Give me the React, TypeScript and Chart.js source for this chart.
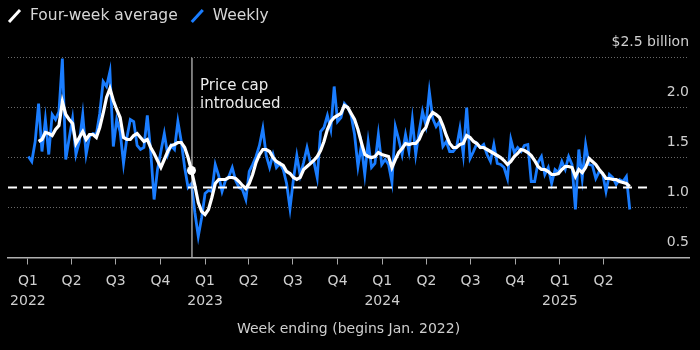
import { useEffect, useRef } from 'react';
import { Chart, registerables } from 'chart.js';

Chart.register(...registerables);

// ---------- data ----------
const firstWeekEnding = '2022-01-02';

const weekly = [
  1.51, 1.46, 1.66, 2.04, 1.56, 1.88, 1.53, 1.93, 1.88, 1.96,
  2.49, 1.48, 1.69, 1.89, 1.53, 1.66, 1.93, 1.53, 1.71, 1.74,
  1.73, 1.94, 2.26, 2.21, 2.36, 1.61, 1.88, 1.76, 1.44, 1.70,
  1.88, 1.86, 1.62, 1.58, 1.60, 1.92, 1.56, 1.08, 1.38, 1.56,
  1.74, 1.53, 1.62, 1.58, 1.86, 1.66, 1.40, 1.20, 1.24, 0.95,
  0.71, 0.90, 1.14, 1.17, 1.16, 1.43, 1.32, 1.16, 1.27, 1.31,
  1.40, 1.27, 1.20, 1.18, 1.08, 1.36, 1.43, 1.51, 1.62, 1.79,
  1.52, 1.40, 1.53, 1.40, 1.44, 1.38, 1.24, 0.99, 1.28, 1.52,
  1.32, 1.45, 1.60, 1.45, 1.46, 1.30, 1.76, 1.80, 1.92, 1.78,
  2.21, 1.86, 1.90, 2.04, 2.00, 1.92, 1.73, 1.41, 1.62, 1.33,
  1.66, 1.40, 1.44, 1.73, 1.43, 1.48, 1.43, 1.25, 1.81, 1.68,
  1.53, 1.73, 1.56, 1.88, 1.53, 1.76, 1.96, 1.82, 2.16, 1.89,
  1.81, 1.86, 1.61, 1.66, 1.56, 1.56, 1.60, 1.79, 1.53, 2.00,
  1.49, 1.56, 1.64, 1.60, 1.63, 1.53, 1.46, 1.63, 1.44, 1.43,
  1.40, 1.29, 1.68, 1.55, 1.60, 1.56, 1.62, 1.63, 1.26, 1.26,
  1.45, 1.51, 1.33, 1.40, 1.24, 1.38, 1.35, 1.46, 1.38, 1.51,
  1.43, 0.98, 1.58, 1.29, 1.63, 1.43, 1.42, 1.29, 1.36, 1.34,
  1.16, 1.33, 1.30, 1.23, 1.28, 1.26, 1.31, 0.98,
];

const fourWeekAvg = [
  null, null, null, 1.66, 1.68, 1.75, 1.74, 1.72, 1.78, 1.82,
  2.06, 1.93, 1.88, 1.84, 1.64, 1.70, 1.76, 1.68, 1.73, 1.73,
  1.70, 1.80, 1.94, 2.10, 2.19, 2.07, 1.98, 1.90, 1.70, 1.68,
  1.68, 1.72, 1.74, 1.70, 1.66, 1.68, 1.60, 1.54, 1.47, 1.40,
  1.48, 1.56, 1.62, 1.63, 1.65, 1.65, 1.60, 1.50, 1.37, 1.22,
  1.05, 0.96, 0.93, 0.98, 1.10, 1.24, 1.28, 1.28, 1.28, 1.30,
  1.30, 1.29, 1.26, 1.22, 1.19, 1.24, 1.33, 1.45, 1.53, 1.58,
  1.58, 1.56, 1.50, 1.46, 1.44, 1.42, 1.36, 1.34, 1.30, 1.28,
  1.30, 1.38, 1.41, 1.44, 1.47, 1.51, 1.57, 1.66, 1.78, 1.86,
  1.90, 1.92, 1.94, 2.02, 2.00, 1.94, 1.88, 1.78, 1.65, 1.53,
  1.51, 1.50, 1.51, 1.55, 1.53, 1.52, 1.51, 1.40, 1.48, 1.55,
  1.59, 1.64, 1.63, 1.64, 1.64, 1.68, 1.76, 1.80, 1.90, 1.95,
  1.93, 1.90, 1.82, 1.72, 1.64, 1.60, 1.60, 1.63, 1.64, 1.72,
  1.70, 1.66, 1.64, 1.60, 1.60, 1.58, 1.56, 1.54, 1.52, 1.50,
  1.47, 1.43, 1.46, 1.51, 1.54, 1.58, 1.57, 1.55, 1.52, 1.47,
  1.41, 1.38, 1.38, 1.36, 1.33, 1.33, 1.34, 1.38, 1.41, 1.41,
  1.40, 1.31, 1.38, 1.35, 1.40, 1.49, 1.46, 1.43, 1.38, 1.34,
  1.29, 1.29, 1.28, 1.28, 1.26, 1.25, 1.24, 1.21,
];

const quarterTickDates = [
  '2022-01-01', '2022-04-01', '2022-07-01', '2022-10-01',
  '2023-01-01', '2023-04-01', '2023-07-01', '2023-10-01',
  '2024-01-01', '2024-04-01', '2024-07-01', '2024-10-01',
  '2025-01-01', '2025-04-01',
];
const quarterLabels = [
  ['Q1', '2022'], ['Q2'], ['Q3'], ['Q4'],
  ['Q1', '2023'], ['Q2'], ['Q3'], ['Q4'],
  ['Q1', '2024'], ['Q2'], ['Q3'], ['Q4'],
  ['Q1', '2025'], ['Q2'],
];
const yTickValues = [0.5, 1.0, 1.5, 2.0, 2.5];
const yTopLabel = '$2.5 billion';

const xRangeDates = ['2021-11-21', '2025-09-24'];
const referenceLevel = 1.2;
const referenceEndDate = '2025-07-10';
const priceCapDate = '2022-12-05';
const priceCapLabel = ['Price cap', 'introduced'];
const seriesLabels = ['Four-week average', 'Weekly'];
const axisTitle = 'Week ending (begins Jan. 2022)';

// ---------- helpers ----------
const FONT = "'DejaVu Sans', sans-serif";
const BLUE = '#1a7dff';
const TEXT = '#cfcfcf';
const dayOf = (s: string) => (Date.parse(s) - Date.parse('2022-01-01')) / 86400000;
const weekDay = (i: number) => dayOf(firstWeekEnding) + 7 * i;
const capDay = dayOf(priceCapDate);
const capIndex = weekly.reduce(
  (best, _v, i) => (Math.abs(weekDay(i) - capDay) < Math.abs(weekDay(best) - capDay) ? i : best),
  0
);

const bgPlugin = {
  id: 'bg',
  beforeDraw(chart: any) {
    const { ctx, width, height } = chart;
    ctx.save();
    ctx.fillStyle = '#000';
    ctx.fillRect(0, 0, width, height);
    ctx.restore();
  },
};

const legendPlugin = {
  id: 'slashLegend',
  afterDraw(chart: any) {
    const ctx = chart.ctx;
    ctx.save();
    ctx.font = `15.5px ${FONT}`;
    ctx.textBaseline = 'middle';
    ctx.textAlign = 'left';
    let x = 8;
    const y = 16;
    const items = [
      { label: seriesLabels[0], color: '#ffffff' },
      { label: seriesLabels[1], color: BLUE },
    ];
    items.forEach((it) => {
      ctx.strokeStyle = it.color;
      ctx.lineWidth = 3;
      ctx.lineCap = 'butt';
      ctx.beginPath();
      ctx.moveTo(x + 1, y + 6);
      ctx.lineTo(x + 12, y - 6);
      ctx.stroke();
      x += 22;
      ctx.fillStyle = '#d6d6d6';
      ctx.fillText(it.label, x, y);
      x += ctx.measureText(it.label).width + 13;
    });
    ctx.restore();
  },
};

const capLabelPlugin = {
  id: 'capLabel',
  afterDatasetsDraw(chart: any) {
    const ctx = chart.ctx;
    const x = chart.scales.x.getPixelForValue(capDay) + 8;
    ctx.save();
    ctx.font = `15px ${FONT}`;
    ctx.fillStyle = '#ececec';
    ctx.textBaseline = 'middle';
    ctx.textAlign = 'left';
    priceCapLabel.forEach((line, k) => {
      ctx.fillText(line, x, chart.chartArea.top + 28.5 + k * 18);
    });
    ctx.restore();
  },
};

export default function App() {
  const ref = useRef<HTMLCanvasElement | null>(null);

  useEffect(() => {
    document.body.style.margin = '0';
    document.body.style.background = '#000';
    if (!ref.current) return;
    Chart.defaults.font.family = FONT;

    const chart = new Chart(ref.current, {
      type: 'line',
      data: {
        datasets: [
          {
            label: seriesLabels[0],
            data: fourWeekAvg.map((v, i) => ({ x: weekDay(i), y: v })),
            borderColor: '#ffffff',
            backgroundColor: '#ffffff',
            borderWidth: 3.2,
            pointRadius: (c: any) => (c.dataIndex === capIndex ? 4.5 : 0),
            pointBackgroundColor: '#ffffff',
            pointBorderWidth: 0,
            pointHoverRadius: 0,
            tension: 0,
            order: 0,
          },
          {
            label: 'cap',
            data: [
              { x: capDay, y: yTickValues[0] },
              { x: capDay, y: yTickValues[yTickValues.length - 1] },
            ],
            borderColor: '#c8c8c8',
            borderWidth: 1.2,
            pointRadius: 0,
            order: 1,
          },
          {
            label: 'reference',
            data: [
              { x: dayOf(xRangeDates[0]), y: referenceLevel },
              { x: dayOf(referenceEndDate), y: referenceLevel },
            ],
            borderColor: '#ffffff',
            borderWidth: 2,
            borderDash: [9, 6],
            pointRadius: 0,
            order: 2,
          },
          {
            label: seriesLabels[1],
            data: weekly.map((v, i) => ({ x: weekDay(i), y: v })),
            borderColor: BLUE,
            backgroundColor: BLUE,
            borderWidth: 2.8,
            pointRadius: 0,
            tension: 0,
            order: 3,
          },
        ],
      },
      options: {
        animation: false,
        responsive: false,
        devicePixelRatio: 1,
        layout: { padding: { left: 8, right: 0, top: 57.5, bottom: 0 } },
        plugins: {
          legend: { display: false },
          tooltip: { enabled: false },
          title: { display: false },
        },
        scales: {
          x: {
            type: 'linear',
            min: dayOf(xRangeDates[0]),
            max: dayOf(xRangeDates[1]),
            afterBuildTicks: (s: any) => {
              s.ticks = quarterTickDates.map((d) => ({ value: dayOf(d) }));
            },
            afterFit: (s: any) => {
              s.height = 92.5;
            },
            ticks: {
              autoSkip: false,
              maxRotation: 0,
              padding: 7,
              color: TEXT,
              font: { size: 14, lineHeight: 1.43 },
              callback: (_v: any, i: number) => quarterLabels[i],
            },
            grid: {
              display: true,
              drawOnChartArea: false,
              drawTicks: true,
              tickLength: 7,
              tickColor: '#a8a8a8',
              color: '#a8a8a8',
            },
            border: { display: true, color: '#b0b0b0', width: 1.5 },
            title: {
              display: true,
              text: axisTitle,
              color: TEXT,
              font: { size: 14 },
              padding: { top: 0, bottom: 12 },
            },
          },
          y: {
            type: 'linear',
            position: 'right',
            min: yTickValues[0],
            max: yTickValues[yTickValues.length - 1],
            afterBuildTicks: (s: any) => {
              s.ticks = yTickValues.map((v) => ({ value: v }));
            },
            afterFit: (s: any) => {
              s.width = 11;
            },
            ticks: {
              mirror: true,
              padding: 0,
              labelOffset: -15,
              color: TEXT,
              font: { size: 14 },
              callback: (v: any) =>
                Number(v) === yTickValues[yTickValues.length - 1] ? yTopLabel : Number(v).toFixed(1),
            },
            grid: {
              drawTicks: false,
              lineWidth: 1,
              color: (c: any) => (c.tick && c.tick.value === yTickValues[0] ? 'rgba(0,0,0,0)' : '#6a6a6a'),
            },
            border: { display: false, dash: [1, 2] },
          },
        },
      },
      plugins: [bgPlugin, legendPlugin, capLabelPlugin],
    } as any);

    return () => chart.destroy();
  }, []);

  return (
    <div style={{ position: 'fixed', left: 0, top: 0, width: 700, height: 350, background: '#000' }}>
      <canvas ref={ref} width={700} height={350} />
    </div>
  );
}
